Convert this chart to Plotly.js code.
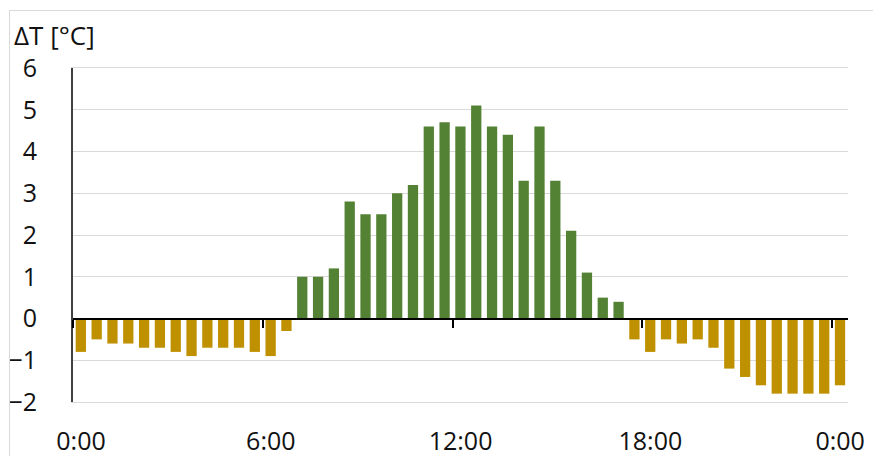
<!DOCTYPE html>
<html>
<head>
<meta charset="utf-8">
<script src="https://cdn.plot.ly/plotly-3.0.1.min.js"></script>
<style>
  html, body { margin: 0; padding: 0; background: #fff; overflow: hidden; }
  #chart { width: 873px; height: 456px; position: absolute; left: 0; top: 0; }
  #frame { position: absolute; left: 9px; top: 10px; width: 900px; height: 500px;
           border: 1px solid #d9d9d9; pointer-events: none; }
</style>
</head>
<body>
<div id="chart"></div>
<div id="frame"></div>
<script>
// Half-hourly time stamps (hours since midnight)
const hours = [0, 0.5, 1, 1.5, 2, 2.5, 3, 3.5, 4, 4.5, 5, 5.5,
               6, 6.5, 7, 7.5, 8, 8.5, 9, 9.5, 10, 10.5, 11, 11.5,
               12, 12.5, 13, 13.5, 14, 14.5, 15, 15.5, 16, 16.5, 17, 17.5,
               18, 18.5, 19, 19.5, 20, 20.5, 21, 21.5, 22, 22.5, 23, 23.5, 24];
// Temperature difference ΔT [°C]
const deltaT = [-0.8, -0.5, -0.6, -0.6, -0.7, -0.7, -0.8, -0.9, -0.7, -0.7, -0.7, -0.8,
                -0.9, -0.3, 1.0, 1.0, 1.2, 2.8, 2.5, 2.5, 3.0, 3.2, 4.6, 4.7,
                4.6, 5.1, 4.6, 4.4, 3.3, 4.6, 3.3, 2.1, 1.1, 0.5, 0.4, -0.5,
                -0.8, -0.5, -0.6, -0.5, -0.7, -1.2, -1.4, -1.6, -1.8, -1.8, -1.8, -1.8, -1.6];
const tickHours = [0, 6, 12, 18, 24];
const tickLabels = ["0:00", "6:00", "12:00", "18:00", "0:00"];

const GREEN = "#548235", GOLD = "#BF9000";
const colors = deltaT.map(v => v >= 0 ? GREEN : GOLD);

const FONT = "Open Sans, Noto Sans, sans-serif";
const TXT = "#111";

const bars = {
  type: "bar",
  x: hours,
  y: deltaT,
  offset: 0.085,
  width: 0.325,
  marker: { color: colors, line: { width: 0 } },
  hoverinfo: "x+y"
};
// empty helper trace so that the zero-line axis (x2) is drawn
const zeroAxisHelper = {
  type: "scatter", mode: "markers",
  x: [null], y: [null],
  xaxis: "x2", yaxis: "y",
  showlegend: false, hoverinfo: "skip"
};

const layout = {
  width: 873, height: 456,
  margin: { l: 73, r: 25, t: 68, b: 54 },
  paper_bgcolor: "#fff",
  plot_bgcolor: "#fff",
  showlegend: false,
  font: { family: FONT, size: 25, color: TXT },
  title: {
    text: "ΔT [°C]",
    font: { family: FONT, size: 26, color: TXT },
    x: 14 / 873, xref: "container", xanchor: "left",
    y: 1 - 36 / 456, yref: "container", yanchor: "middle"
  },
  xaxis: {
    range: [0, 24.5],
    tickvals: tickHours,
    ticktext: tickLabels,
    ticklabelshift: 8,
    showgrid: false,
    zeroline: false,
    showline: true,
    mirror: true,
    linecolor: "#d9d9d9",
    linewidth: 1,
    ticks: "outside",
    ticklen: 0,
    ticklabelstandoff: 17,
    tickfont: { family: FONT, size: 25, color: TXT },
    fixedrange: true
  },
  xaxis2: {
    overlaying: "x",
    anchor: "free",
    position: 0.25,
    range: [0, 24.5],
    tickvals: tickHours,
    showticklabels: false,
    showgrid: false,
    zeroline: false,
    showline: true,
    linecolor: "#000",
    linewidth: 2,
    ticks: "outside",
    ticklen: 8,
    tickwidth: 2,
    tickcolor: "#000",
    fixedrange: true
  },
  yaxis: {
    range: [-2, 6],
    dtick: 1,
    tick0: 0,
    showgrid: true,
    gridcolor: "#d9d9d9",
    gridwidth: 1,
    zeroline: false,
    showline: true,
    linecolor: "#404040",
    linewidth: 2,
    ticks: "outside",
    ticklen: 0,
    ticklabelstandoff: 29,
    tickfont: { family: FONT, size: 25, color: TXT },
    fixedrange: true
  }
};

Plotly.newPlot("chart", [bars, zeroAxisHelper], layout, { staticPlot: true, displayModeBar: false });
</script>
</body>
</html>
